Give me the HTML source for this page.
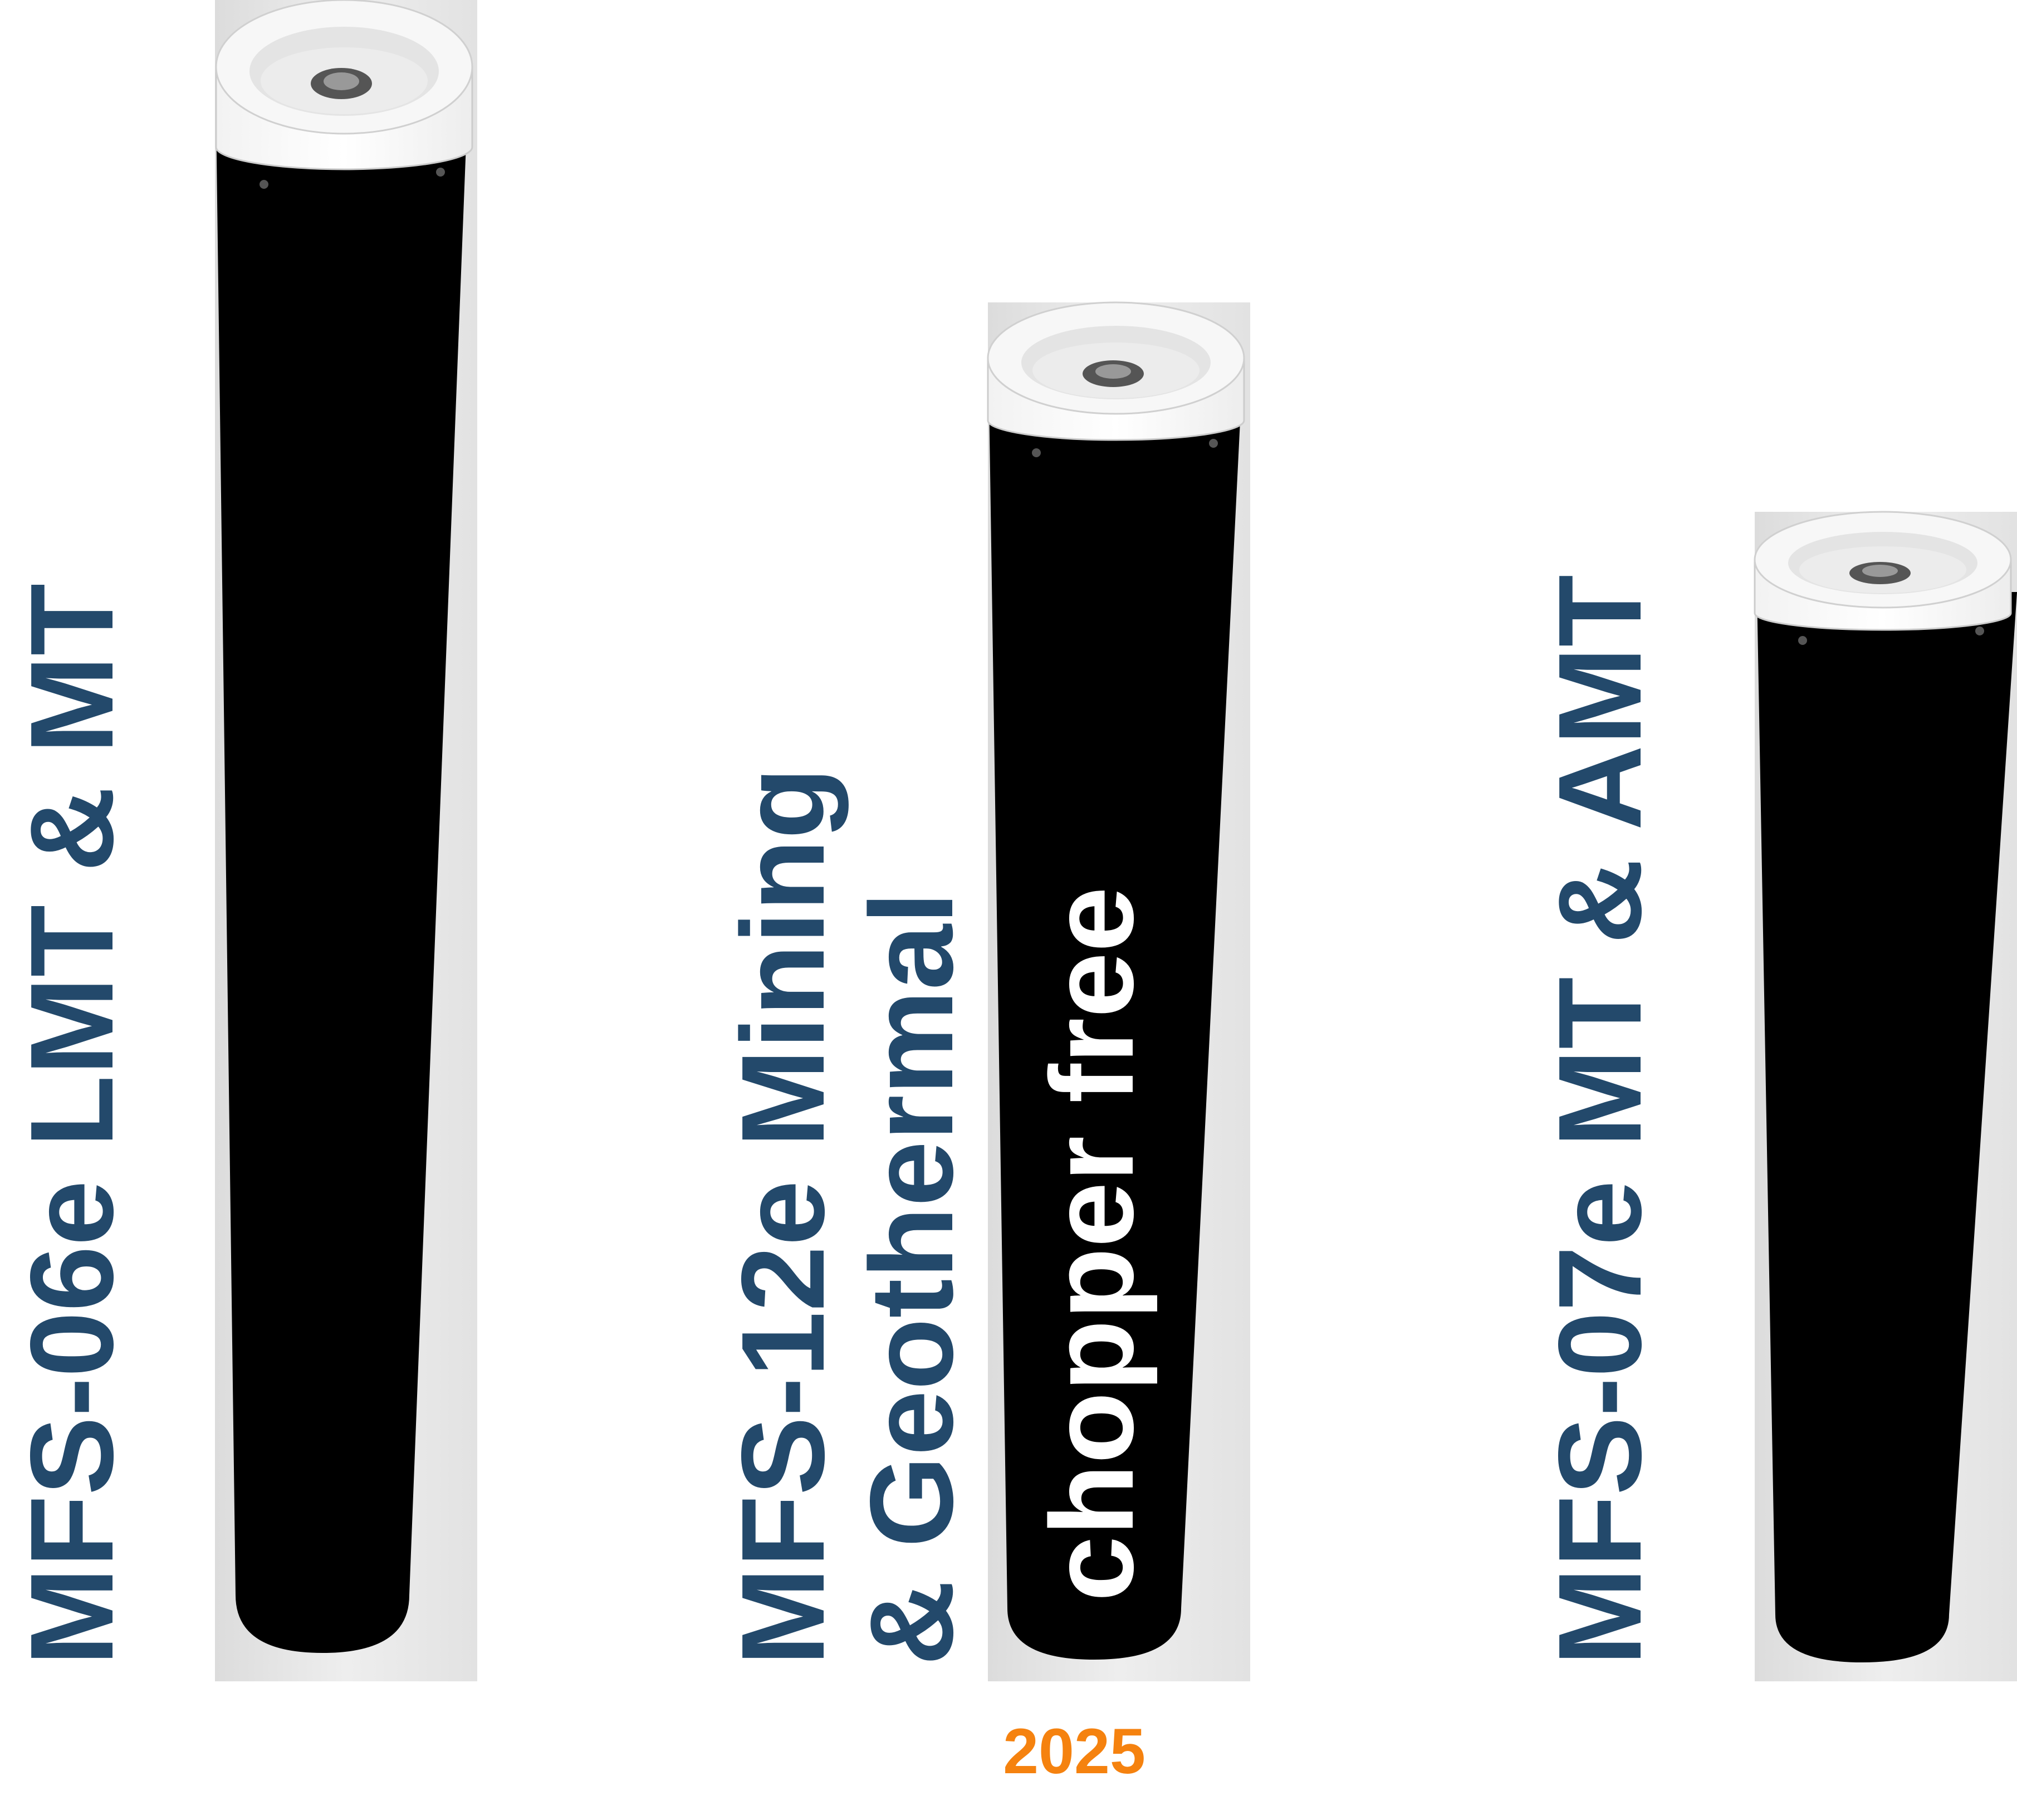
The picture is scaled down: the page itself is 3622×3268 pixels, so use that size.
<!DOCTYPE html>
<html><head><meta charset="utf-8"><style>
html,body{margin:0;padding:0;background:#fff;}
body{width:3622px;height:3268px;position:relative;overflow:hidden;font-family:"Liberation Sans",sans-serif;}
.t{position:absolute;transform-origin:0 0;transform:rotate(-90deg);white-space:nowrap;font-weight:bold;font-size:212px;line-height:1;color:#23496b;}
</style></head><body>
<svg width="3622" height="3268" style="position:absolute;left:0;top:0">
<defs>
<linearGradient id="bg" x1="0" x2="1" y1="0" y2="0">
<stop offset="0" stop-color="#dcdcdc"/><stop offset="0.5" stop-color="#eeeeee"/><stop offset="1" stop-color="#e2e2e2"/>
</linearGradient>
<linearGradient id="capg" x1="0" x2="1">
<stop offset="0" stop-color="#f2f2f2"/><stop offset="0.5" stop-color="#ffffff"/><stop offset="1" stop-color="#ededed"/>
</linearGradient>
</defs>
<!-- cylinder 1 -->
<rect x="386" y="0" width="471" height="3019" fill="url(#bg)"/>
<path d="M388 208 L839 208 L735 2864 Q735 2968 579 2968 Q423 2968 423 2864 Z" fill="#000"/>
<g transform="translate(388,0)">
<path d="M0 120 L0 264 A230 40 0 0 0 460 264 L460 120 Z" fill="url(#capg)" stroke="#ccc" stroke-width="3"/>
<ellipse cx="230" cy="120" rx="230" ry="120" fill="#f7f7f7" stroke="#d0d0d0" stroke-width="3"/>
<ellipse cx="230" cy="128" rx="170" ry="80" fill="#e4e4e4"/>
<ellipse cx="230" cy="145" rx="150" ry="60" fill="#ececec"/>
<ellipse cx="225" cy="150" rx="55" ry="28" fill="#555"/>
<ellipse cx="225" cy="146" rx="32" ry="16" fill="#999"/>
</g>
<circle cx="474" cy="331" r="8" fill="#555"/><circle cx="791" cy="309" r="8" fill="#555"/>
<!-- cylinder 2 -->
<rect x="1774" y="543" width="471" height="2476" fill="url(#bg)"/>
<path d="M1776 716 L2229 716 L2121 2888 Q2121 2980 1965 2980 Q1809 2980 1809 2888 Z" fill="#000"/>
<g transform="translate(1774,543)">
<path d="M0 100 L0 212 A230 35 0 0 0 460 212 L460 100 Z" fill="url(#capg)" stroke="#ccc" stroke-width="3"/>
<ellipse cx="230" cy="100" rx="230" ry="100" fill="#f7f7f7" stroke="#d0d0d0" stroke-width="3"/>
<ellipse cx="230" cy="108" rx="170" ry="66" fill="#e4e4e4"/>
<ellipse cx="230" cy="122" rx="150" ry="50" fill="#ececec"/>
<ellipse cx="225" cy="128" rx="55" ry="24" fill="#555"/>
<ellipse cx="225" cy="124" rx="32" ry="13" fill="#999"/>
</g>
<circle cx="1861" cy="813" r="8" fill="#555"/><circle cx="2179" cy="796" r="8" fill="#555"/>
<!-- cylinder 3 -->
<rect x="3151" y="919" width="471" height="2100" fill="url(#bg)"/>
<path d="M3155 1063 L3622 1063 L3500 2899 Q3500 2985 3344 2985 Q3188 2985 3188 2899 Z" fill="#000"/>
<g transform="translate(3151,919)">
<path d="M0 86 L0 182 A230 30 0 0 0 460 182 L460 86 Z" fill="url(#capg)" stroke="#ccc" stroke-width="3"/>
<ellipse cx="230" cy="86" rx="230" ry="86" fill="#f7f7f7" stroke="#d0d0d0" stroke-width="3"/>
<ellipse cx="230" cy="92" rx="170" ry="56" fill="#e4e4e4"/>
<ellipse cx="230" cy="104" rx="150" ry="42" fill="#ececec"/>
<ellipse cx="225" cy="110" rx="55" ry="20" fill="#555"/>
<ellipse cx="225" cy="106" rx="32" ry="11" fill="#999"/>
</g>
<circle cx="3237" cy="1150" r="8" fill="#555"/><circle cx="3555" cy="1133" r="8" fill="#555"/>
</svg>
<div class="t" style="left:23px;top:2991px;">MFS-06e LMT &amp; MT</div>
<div class="t" style="left:1300px;top:2991px;">MFS-12e Mining</div>
<div class="t" style="left:1531px;top:2991px;">&amp; Geothermal</div>
<div class="t" style="left:1855px;top:2876px;color:#fff;">chopper free</div>
<div class="t" style="left:2767px;top:2991px;">MFS-07e MT &amp; AMT</div>
<div style="position:absolute;left:1729px;top:3088px;width:400px;text-align:center;font-weight:bold;font-size:115px;line-height:1;color:#f5820f;">2025</div>
</body></html>
